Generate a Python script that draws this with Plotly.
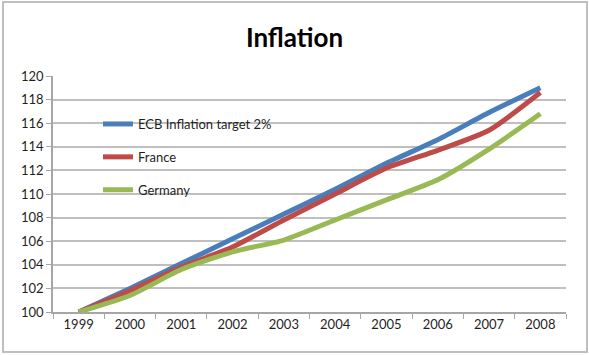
import plotly.graph_objects as go

years = ["1999", "2000", "2001", "2002", "2003", "2004", "2005", "2006", "2007", "2008"]
ecb = [100, 102.0, 104.1, 106.2, 108.3, 110.4, 112.6, 114.6, 116.9, 119.0]
france = [100, 101.8, 103.8, 105.5, 107.8, 110.0, 112.2, 113.7, 115.4, 118.6]
germany = [100, 101.4, 103.6, 105.1, 106.1, 107.8, 109.5, 111.2, 113.8, 116.8]
y_ticks = list(range(100, 121, 2))

series = [
    ("ECB Inflation target 2%", ecb, "#4a7ebb"),
    ("France", france, "#be4b48"),
    ("Germany", germany, "#98b954"),
]

fig = go.Figure()
for i, (name, vals, col) in enumerate(series):
    fig.add_trace(go.Scatter(
        x=years, y=vals, name=name, mode="lines",
        line=dict(color=col, width=5, shape="spline", smoothing=0.6),
        legendgroup=f"g{i}",
    ))

W, H = 589, 355
L, R, T, B = 53, 23, 76, 43
pw, ph = W - L - R, H - T - B

def px_x(x):
    return (x - L) / pw

def px_y(y):
    return (H - B - y) / ph

fig.update_layout(
    width=W, height=H,
    margin=dict(l=L, r=R, t=T, b=B),
    paper_bgcolor="white", plot_bgcolor="white",
    font=dict(family="Lato", size=13, color="#1f1f1f"),
    title=dict(text="<b>Inflation</b>", x=0.5, xanchor="center", y=1 - 38 / H, yanchor="middle",
               font=dict(family="Lato", size=26, color="black")),
    showlegend=True,
    legend=dict(x=px_x(98), y=px_y(109), xanchor="left", yanchor="top",
                bgcolor="rgba(0,0,0,0)", tracegroupgap=13, traceorder="grouped",
                font=dict(family="Lato", size=13, color="#1f1f1f")),
    xaxis=dict(type="category", showgrid=False, showline=True, linecolor="#a6a6a6", linewidth=1.5,
               ticks="outside", tickson="boundaries", ticklen=5, tickcolor="#a6a6a6",
               tickfont=dict(family="Lato", size=13, color="#1f1f1f"), range=[-0.5, 9.5]),
    yaxis=dict(range=[100, 120], tickvals=y_ticks, showgrid=True, gridcolor="#bfbfbf", gridwidth=2,
               showline=True, linecolor="#a6a6a6", linewidth=1.5, ticks="outside", ticklen=5,
               tickcolor="#a6a6a6", zeroline=False,
               tickfont=dict(family="Lato", size=13, color="#1f1f1f")),
    shapes=[dict(type="rect", xref="paper", yref="paper",
                 x0=px_x(3), x1=px_x(587), y0=px_y(352), y1=px_y(2),
                 line=dict(color="#bfbfbf", width=2), fillcolor="rgba(0,0,0,0)", layer="below")],
)

fig.write_html("out.html", config={"displayModeBar": False},
               post_script="document.body.style.margin='0';")
